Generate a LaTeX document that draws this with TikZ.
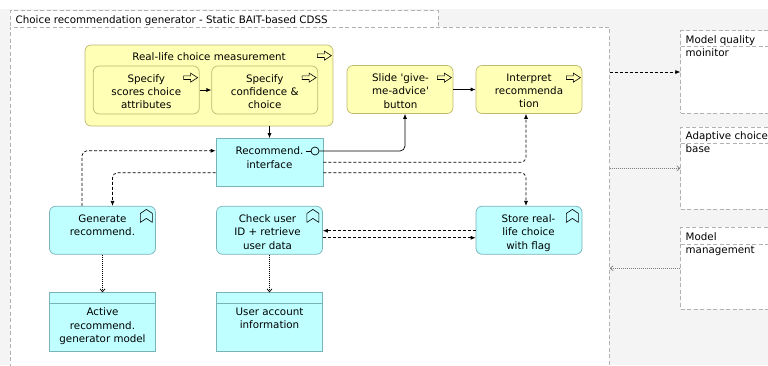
\documentclass[tikz,border=0pt]{standalone}
\usepackage{fontspec}
\setmainfont{DejaVu Sans}
\usetikzlibrary{arrows.meta,calc}
\definecolor{yfill}{RGB}{255,255,181}
\definecolor{ybord}{RGB}{190,186,112}
\definecolor{cfill}{RGB}{192,255,255}
\definecolor{cbord}{RGB}{122,178,186}
\definecolor{bggray}{RGB}{244,244,244}
\definecolor{dgray}{RGB}{178,178,178}
\tikzset{
  ybox/.style={draw=ybord, fill=yfill, rounded corners=6pt, inner sep=0pt, line width=0.7pt},
  cbox/.style={draw=cbord, fill=cfill, inner sep=0pt, line width=0.7pt},
  crbox/.style={cbox, rounded corners=6pt},
  bsize/.style={minimum width=106pt, minimum height=48pt},
  txt/.style={font=\fontsize{10.3}{13.3}\selectfont, align=center, inner sep=0pt, anchor=north},
  ltxt/.style={font=\fontsize{10.3}{13.4}\selectfont, align=left, inner sep=0pt, anchor=north west},
  grp/.style={draw=dgray, dash pattern=on 4pt off 2.5pt, line width=0.7pt, fill=white, inner sep=0pt},
  conn/.style={-{Latex[length=5pt,width=4pt]}, line width=0.7pt},
  dconn/.style={conn, dash pattern=on 3pt off 2pt, rounded corners=5pt},
  oconn/.style={-{Straight Barb[length=3pt,width=5pt]}, dash pattern=on 1pt off 1pt, line width=0.7pt},
  procicon/.pic={\draw[line width=0.6pt] (-14,-1.8) -- (-7,-1.8) -- (-7,-4.5) -- (0,0) -- (-7,4.5) -- (-7,1.8) -- (-14,1.8) -- cycle;},
  funcicon/.pic={\draw[line width=0.6pt, line join=round] (-6,0) -- (0,4) -- (0,13) -- (-6,9) -- (-12,13) -- (-12,4) -- cycle;}
}
\begin{document}
\begin{tikzpicture}[x=1pt,y=-1pt]
\useasboundingbox (0,0) rectangle (768,365);
\fill[bggray] (0,9) rectangle (768,365);
% group container
\node[grp, minimum width=428pt, minimum height=16.5pt] (tab) at (224.15,19) {};
\node[grp, minimum width=599.3pt, minimum height=343pt] (body) at (309.65,198.5) {};
\node[ltxt] (tabT) at (15.5,15.5) {Choice recommendation generator - Static BAIT-based CDSS};
% right groups
\node[grp, minimum width=100pt, minimum height=82.6pt] (mq) at (730.7,72) {};
\draw[draw=dgray, dash pattern=on 4pt off 2.5pt, line width=0.7pt] (680.7,46.7) -- (768,46.7);
\node[ltxt] (mqT) at (685.5,35.3) {Model quality\\moinitor};
\node[grp, minimum width=100pt, minimum height=82pt] (acb) at (730.7,168.3) {};
\draw[draw=dgray, dash pattern=on 4pt off 2.5pt, line width=0.7pt] (680.7,143.3) -- (768,143.3);
\node[ltxt] (acbT) at (685.5,131) {Adaptive choice\\base};
\node[grp, minimum width=100pt, minimum height=82pt] (mm) at (730.7,268.3) {};
\draw[draw=dgray, dash pattern=on 4pt off 2.5pt, line width=0.7pt] (680.7,244) -- (768,244);
\node[ltxt] (mmT) at (685.5,232) {Model\\management};
% real-life container
\node[ybox, minimum width=248pt, minimum height=81pt] (rlc) at (209,85.5) {};
\node[txt] (rlcT) at (209,52) {Real-life choice measurement};
\pic at ([xshift=-2pt,yshift=-11pt]rlc.north east) {procicon};
\node[ybox, bsize] (sp1) at (146.25,90) {};
\node[txt] (sp1T) at (146.25,74) {Specify\\scores choice\\attributes};
\pic at ([xshift=-2pt,yshift=-12pt]sp1.north east) {procicon};
\node[ybox, bsize] (sp2) at (264.75,90) {};
\node[txt] (sp2T) at (264.75,74) {Specify\\confidence \&\\choice};
\pic at ([xshift=-2pt,yshift=-12pt]sp2.north east) {procicon};
\node[ybox, bsize] (sl) at (400,89.5) {};
\node[txt] (slT) at (400.5,73.5) {Slide \textquotesingle give-\\me-advice\textquotesingle\\button};
\pic at ([xshift=-2pt,yshift=-12.5pt]sl.north east) {procicon};
\node[ybox, bsize] (ip) at (529,89.5) {};
\node[txt] (ipT) at (529,73.5) {Interpret\\recommenda\\tion};
\pic at ([xshift=-2pt,yshift=-12.5pt]ip.north east) {procicon};
% interface
\node[cbox, minimum width=107pt, minimum height=47.5pt] (if) at (269.5,162.25) {};
\node[txt] (ifT) at (269.5,146.7) {Recommend.\\interface};
\node[circle, draw, line width=0.7pt, fill=cfill, minimum size=8pt, inner sep=0pt] (lol) at (315,151) {};
\draw[line width=0.7pt] (lol.west) -- ++(-5,0);
% functions
\node[crbox, bsize] (gen) at (102.5,230.25) {};
\node[txt] (genT) at (102.5,214.5) {Generate\\recommend.};
\pic at ([xshift=-3.5pt,yshift=-3.5pt]gen.north east) {funcicon};
\node[crbox, bsize] (chk) at (269.5,230.25) {};
\node[txt] (chkT) at (267.5,214.5) {Check user\\ID + retrieve\\user data};
\pic at ([xshift=-4pt,yshift=-3.5pt]chk.north east) {funcicon};
\node[crbox, bsize] (st) at (529,230.25) {};
\node[txt] (stT) at (528.5,214.5) {Store real-\\life choice\\with flag};
\pic at ([xshift=-4pt,yshift=-3.5pt]st.north east) {funcicon};
% data objects
\node[cbox, minimum width=106pt, minimum height=59pt] (act) at (102.5,322.2) {};
\draw[cbord, line width=0.7pt] (49.5,303.3) -- (155.5,303.3);
\node[txt] (actT) at (102.5,307.7) {Active\\recommend.\\generator model};
\node[cbox, minimum width=106pt, minimum height=59pt] (ua) at (269.5,322.2) {};
\draw[cbord, line width=0.7pt] (216.5,303.3) -- (322.5,303.3);
\node[txt] (uaT) at (269.5,307.7) {User account\\information};
% connectors
\draw[conn] (sp1.east) -- (sp2.west);
\draw[conn] (sl.east) -- (ip.west);
\draw[conn] (rlc.south -| if.north) -- (if.north);
\draw[conn, rounded corners=5pt] (lol.east) -| ([xshift=5pt]sl.south);
\draw[dconn] (if.east) -| ([xshift=-3pt]ip.south);
\draw[dconn] ([yshift=-10.5pt]if.east) -| ([xshift=-3pt]st.north);
\draw[dconn] ([yshift=-10.5pt]if.west) -| ([xshift=10pt]gen.north);
\draw[dconn] ([xshift=-20.5pt]gen.north) |- ([yshift=11.5pt]if.west);
\draw[dconn] ([yshift=-0.5pt]st.west) -- ([yshift=-0.5pt]chk.east);
\draw[dconn] ([yshift=-7.5pt]chk.east) -- ([yshift=-7.5pt]st.west);
\draw[oconn] (gen.south) -- (act.north);
\draw[oconn] (chk.south) -- (ua.north);
\draw[dconn] (mq.west -| body.east) -- (mq.west);
\draw[oconn, gray] (acb.west -| body.east) -- (acb.west);
\draw[oconn, gray] (mm.west) -- (mm.west -| body.east);
\end{tikzpicture}
\end{document}
